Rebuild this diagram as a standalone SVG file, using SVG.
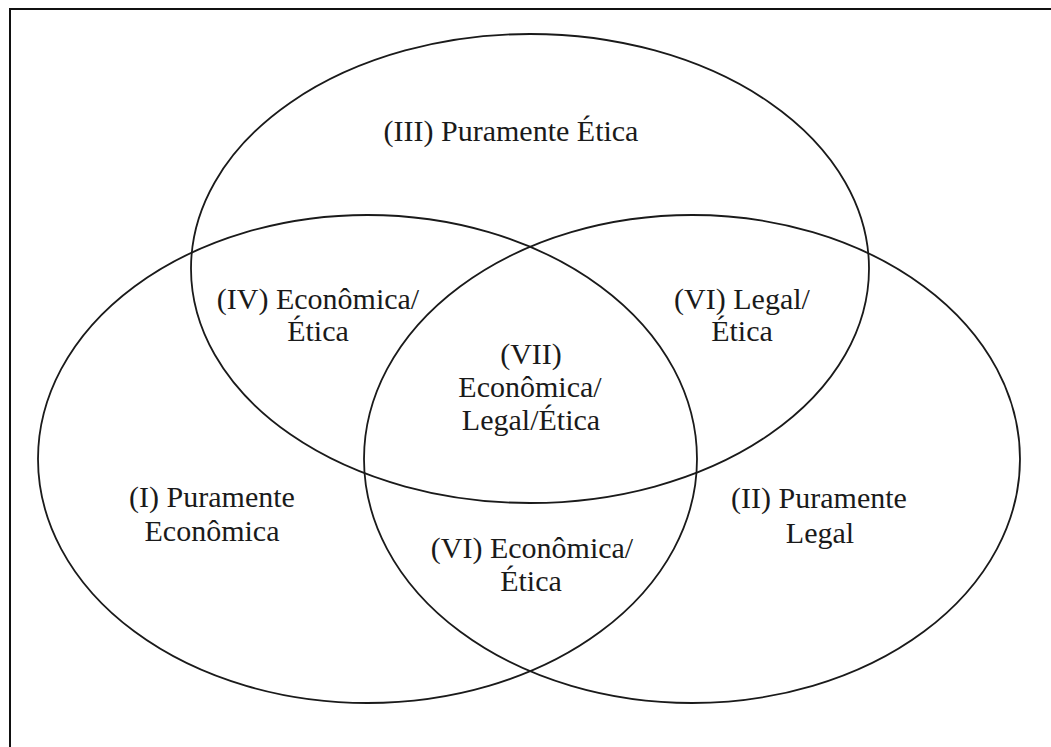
<svg xmlns="http://www.w3.org/2000/svg" width="1051" height="747" viewBox="0 0 1051 747">
<style>
.e{fill:none;stroke:#1a1a1a;stroke-width:1.8}
.t{font-family:"Liberation Serif","Times New Roman",serif;font-size:30px;fill:#1a1a1a;text-anchor:middle}
</style>
<rect width="1051" height="747" fill="#ffffff"/>
<path id="frame" d="M10,747 V9 H1051" fill="none" stroke="#111" stroke-width="2"/>
<g id="ellipses">
<g id="etica"><ellipse class="e" cx="530" cy="268.5" rx="339" ry="234.5"/></g>
<g id="economica"><ellipse class="e" cx="367.5" cy="459" rx="329.5" ry="244"/></g>
<g id="legal"><ellipse class="e" cx="692" cy="459" rx="328" ry="244"/></g>
</g>
<g id="labels">
<g id="r3"><text class="t" x="511" y="141">(III) Puramente Ética</text></g>
<g id="r4"><text class="t" x="318" y="309">(IV) Econômica/</text><text class="t" x="318" y="341">Ética</text></g>
<g id="r6a"><text class="t" x="742" y="309">(VI) Legal/</text><text class="t" x="742" y="341">Ética</text></g>
<g id="r7"><text class="t" x="531" y="364">(VII)</text><text class="t" x="530" y="397">Econômica/</text><text class="t" x="531" y="430">Legal/Ética</text></g>
<g id="r1"><text class="t" x="212" y="507">(I) Puramente</text><text class="t" x="212" y="541">Econômica</text></g>
<g id="r2"><text class="t" x="819" y="508">(II) Puramente</text><text class="t" x="820" y="543">Legal</text></g>
<g id="r6b"><text class="t" x="532" y="558">(VI) Econômica/</text><text class="t" x="531" y="591">Ética</text></g>
</g>
</svg>
